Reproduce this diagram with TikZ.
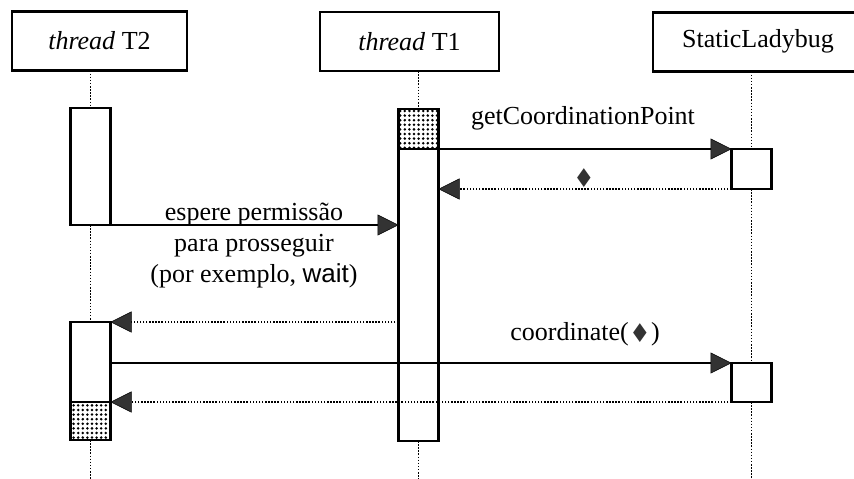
\documentclass[tikz,border=0pt]{standalone}
\usepackage{fontspec}
\usepackage{graphicx}
\setmainfont{Liberation Serif}
\newfontfamily\sansfam{Liberation Sans}
\newfontfamily\symfam{DejaVu Sans}
\usetikzlibrary{arrows.meta,patterns.meta}
\newcommand{\gem}{\raisebox{0.1ex}{\scalebox{0.68}[0.95]{\symfam\color{black!80}◆}}}
\tikzset{
  every node/.style={font=\fontsize{26}{31}\selectfont},
  header/.style={draw, line width=2.1pt, inner sep=0pt, outer sep=0pt, minimum height=59pt},
  actbox/.style={draw, line width=2.1pt, fill=white, inner sep=0pt, outer sep=0pt, minimum width=40pt},
  dotsbox/.style={actbox, pattern={Dots[distance=4.6pt, radius=1.4pt]}, pattern color=black},
  lifeline/.style={line width=1.7pt, dash pattern=on 1.5pt off 1.6pt},
  tip/.style={-{Triangle[length=21pt 0, width=21pt 0, fill=black!80, line width=0.5pt]}},
  callmsg/.style={line width=2.1pt, tip},
  replymsg/.style={line width=1.7pt, dash pattern=on 1.5pt off 1.6pt, tip},
  label/.style={inner sep=0pt, align=center}
}
\begin{document}
\begin{tikzpicture}[x=1pt, y=-1pt]
  \useasboundingbox (0,0) rectangle (854,479);

  % object headers (the last one runs past the right edge)
  \node[header, minimum width=175pt] (h2) at (99.5,41) {\textit{thread} T2};
  \node[header, minimum width=179pt] (h1) at (409.5,41.5) {\textit{thread} T1};
  \node[header, minimum width=230pt] (hs) at (768,42) {};
  \node[label] (hst) at (758,41) {StaticLadybug};

  % activation bars of thread T2
  \node[actbox, minimum height=117pt] (t2a) at (90.5,166.5) {};
  \node[actbox, minimum height=80pt]  (t2b) at (90.5,362) {};
  \node[dotsbox, minimum height=38pt] (t2d) at (90.5,421) {};

  % activation bar of thread T1
  \node[actbox, minimum height=332pt] (t1a) at (418.5,275) {};
  \node[dotsbox, minimum height=40pt] (t1d) at (418.5,129) {};

  % activation bars of StaticLadybug
  \node[actbox, minimum height=40pt] (s1) at (751.5,169) {};
  \node[actbox, minimum height=39pt] (s2) at (751.5,382.5) {};

  % free ends of the lifelines
  \coordinate (e2) at (90.5,479);
  \coordinate (e1) at (418.5,479);
  \coordinate (es) at (751.5,479);

  % lifelines
  \draw[lifeline] (t2a.north |- h2.south) -- (t2a.north);
  \draw[lifeline] (t2a.south) -- (t2b.north);
  \draw[lifeline] (t2d.south) -- (e2);
  \draw[lifeline] (t1d.north |- h1.south) -- (t1d.north);
  \draw[lifeline] (t1a.south) -- (e1);
  \draw[lifeline] (s1.north |- hs.south) -- (s1.north);
  \draw[lifeline] (s1.south) -- (s2.north);
  \draw[lifeline] (s2.south) -- (es);

  % messages
  \draw[callmsg] (t1d.south east) -- (s1.north west);
  \draw[replymsg] (s1.south west) -- (t1a.east |- s1.south);
  \draw[callmsg] (t2a.south east) -- (t1a.west |- t2a.south);
  \draw[replymsg] (t1a.west |- t2b.north) -- (t2b.north east);
  \draw[callmsg] (t2b.east |- s2.north) -- (s2.north west);
  \draw[replymsg] (s2.south west) -- (t2d.north east);

  % message labels
  \node[label] (lget) at (583,118) {getCoordinationPoint};
  \node[label] (lgem) at (584,178) {\gem};
  \node[label] (lwait) at (254,246) {espere permissão\\para prosseguir\\(por exemplo, {\sansfam wait})};
  \node[label] (lcoord) at (585,334) {coordinate(\,\gem\,)};
\end{tikzpicture}
\end{document}
